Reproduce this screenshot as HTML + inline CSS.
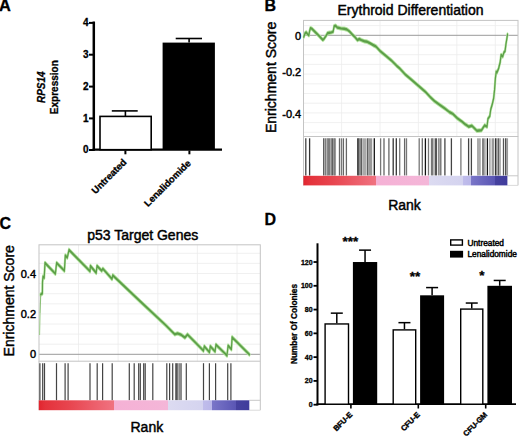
<!DOCTYPE html>
<html><head><meta charset="utf-8"><style>
html,body{margin:0;padding:0;background:#fff;width:520px;height:436px;overflow:hidden}
svg{display:block;font-family:'Liberation Sans',sans-serif}
text{font-family:'Liberation Sans',sans-serif;fill:#000}
</style></head><body>
<svg width="520" height="436" viewBox="0 0 520 436">
<text x="-1" y="10.7" font-size="16.4" font-weight="700" text-anchor="start" stroke="#000" stroke-width="0.3"  style="">A</text>
<line x1="93.8" y1="21.5" x2="93.8" y2="150.8" stroke="#000" stroke-width="2.5"/>
<line x1="89" y1="22.9" x2="93.8" y2="22.9" stroke="#000" stroke-width="2"/>
<text x="88.5" y="26.299999999999997" font-size="10" font-weight="700" text-anchor="end" stroke="#000" stroke-width="0.3"  style="">4</text>
<line x1="89" y1="54.7" x2="93.8" y2="54.7" stroke="#000" stroke-width="2"/>
<text x="88.5" y="58.1" font-size="10" font-weight="700" text-anchor="end" stroke="#000" stroke-width="0.3"  style="">3</text>
<line x1="89" y1="86.6" x2="93.8" y2="86.6" stroke="#000" stroke-width="2"/>
<text x="88.5" y="90.0" font-size="10" font-weight="700" text-anchor="end" stroke="#000" stroke-width="0.3"  style="">2</text>
<line x1="89" y1="118.4" x2="93.8" y2="118.4" stroke="#000" stroke-width="2"/>
<text x="88.5" y="121.80000000000001" font-size="10" font-weight="700" text-anchor="end" stroke="#000" stroke-width="0.3"  style="">1</text>
<line x1="89" y1="150" x2="93.8" y2="150" stroke="#000" stroke-width="2"/>
<text x="88.5" y="153.4" font-size="10" font-weight="700" text-anchor="end" stroke="#000" stroke-width="0.3"  style="">0</text>
<line x1="92.6" y1="149.7" x2="222" y2="149.7" stroke="#000" stroke-width="2.3"/>
<rect x="100" y="116.4" width="51.2" height="33.3" fill="#fff" stroke="#000" stroke-width="1.6"/>
<rect x="162.6" y="42.6" width="52.3" height="107.1" fill="#000"/>
<line x1="125.4" y1="110.9" x2="125.4" y2="116.4" stroke="#000" stroke-width="1.6"/>
<line x1="111.8" y1="110.9" x2="137.7" y2="110.9" stroke="#000" stroke-width="1.6"/>
<line x1="189.1" y1="38.5" x2="189.1" y2="42.6" stroke="#000" stroke-width="1.6"/>
<line x1="175.7" y1="38.5" x2="202" y2="38.5" stroke="#000" stroke-width="1.6"/>
<line x1="125.4" y1="150.5" x2="125.4" y2="154.3" stroke="#000" stroke-width="2"/>
<line x1="189.4" y1="150.5" x2="189.4" y2="154.3" stroke="#000" stroke-width="2"/>
<text x="0" y="0" font-size="9.6" font-weight="700" text-anchor="end" stroke="#000" stroke-width="0.3" transform="translate(127.2,162.8) rotate(-45)" style="">Untreated</text>
<text x="0" y="0" font-size="9.5" font-weight="700" text-anchor="end" stroke="#000" stroke-width="0.3" transform="translate(191.4,163.9) rotate(-45)" style="">Lenalidomide</text>
<text x="0" y="0" font-size="10" font-weight="700" text-anchor="middle" stroke="#000" stroke-width="0.3" transform="translate(45.2,87.2) rotate(-90)" style=""><tspan font-style="italic">RPS14</tspan></text>
<text x="0" y="0" font-size="10" font-weight="700" text-anchor="middle" stroke="#000" stroke-width="0.3" transform="translate(57.6,87.2) rotate(-90)" style="">Expression</text>
<line x1="341.6" y1="20.4" x2="341.6" y2="136.5" stroke="#ececec" stroke-width="0.8"/>
<line x1="380" y1="20.4" x2="380" y2="136.5" stroke="#ececec" stroke-width="0.8"/>
<line x1="418.4" y1="20.4" x2="418.4" y2="136.5" stroke="#ececec" stroke-width="0.8"/>
<line x1="456.8" y1="20.4" x2="456.8" y2="136.5" stroke="#ececec" stroke-width="0.8"/>
<line x1="495.3" y1="20.4" x2="495.3" y2="136.5" stroke="#ececec" stroke-width="0.8"/>
<line x1="303.5" y1="45.0" x2="518" y2="45.0" stroke="#ececec" stroke-width="0.8"/>
<line x1="303.5" y1="54.699999999999996" x2="518" y2="54.699999999999996" stroke="#ececec" stroke-width="0.8"/>
<line x1="303.5" y1="64.39999999999999" x2="518" y2="64.39999999999999" stroke="#ececec" stroke-width="0.8"/>
<line x1="303.5" y1="74.1" x2="518" y2="74.1" stroke="#ececec" stroke-width="0.8"/>
<line x1="303.5" y1="83.8" x2="518" y2="83.8" stroke="#ececec" stroke-width="0.8"/>
<line x1="303.5" y1="93.5" x2="518" y2="93.5" stroke="#ececec" stroke-width="0.8"/>
<line x1="303.5" y1="103.19999999999999" x2="518" y2="103.19999999999999" stroke="#ececec" stroke-width="0.8"/>
<line x1="303.5" y1="112.89999999999999" x2="518" y2="112.89999999999999" stroke="#ececec" stroke-width="0.8"/>
<line x1="303.5" y1="122.6" x2="518" y2="122.6" stroke="#ececec" stroke-width="0.8"/>
<line x1="303.5" y1="132.3" x2="518" y2="132.3" stroke="#ececec" stroke-width="0.8"/>
<line x1="303.5" y1="25.6" x2="518" y2="25.6" stroke="#ececec" stroke-width="0.8"/>
<line x1="303.5" y1="35.3" x2="518" y2="35.3" stroke="#9a9a9a" stroke-width="1"/>
<rect x="303.5" y="20.4" width="214.5" height="116.1" fill="none" stroke="#c4c4c4" stroke-width="1"/>
<line x1="303.5" y1="136.5" x2="303.5" y2="185.4" stroke="#c4c4c4" stroke-width="1"/>
<line x1="518" y1="136.5" x2="518" y2="185.4" stroke="#c4c4c4" stroke-width="1"/>
<line x1="507.4" y1="185.4" x2="518" y2="185.4" stroke="#dadada" stroke-width="1"/>
<line x1="507.4" y1="175.8" x2="518" y2="175.8" stroke="#c8c8c8" stroke-width="1"/>
<line x1="305.8" y1="138.3" x2="305.8" y2="175.5" stroke="#444" stroke-width="1.3"/>
<line x1="309.6" y1="138.3" x2="309.6" y2="175.5" stroke="#333" stroke-width="1.3"/>
<line x1="323.8" y1="138.3" x2="323.8" y2="175.5" stroke="#444" stroke-width="1.3"/>
<line x1="325.7" y1="138.3" x2="325.7" y2="175.5" stroke="#777" stroke-width="1.3"/>
<line x1="327.2" y1="138.3" x2="327.2" y2="175.5" stroke="#999" stroke-width="1.3"/>
<line x1="328.2" y1="138.3" x2="328.2" y2="175.5" stroke="#666" stroke-width="1.3"/>
<line x1="329.7" y1="138.3" x2="329.7" y2="175.5" stroke="#777" stroke-width="1.3"/>
<line x1="331" y1="138.3" x2="331" y2="175.5" stroke="#999" stroke-width="1.3"/>
<line x1="332.2" y1="138.3" x2="332.2" y2="175.5" stroke="#444" stroke-width="1.3"/>
<line x1="334.1" y1="138.3" x2="334.1" y2="175.5" stroke="#444" stroke-width="1.3"/>
<line x1="335.4" y1="138.3" x2="335.4" y2="175.5" stroke="#999" stroke-width="1.3"/>
<line x1="339.5" y1="138.3" x2="339.5" y2="175.5" stroke="#666" stroke-width="1.3"/>
<line x1="341.5" y1="138.3" x2="341.5" y2="175.5" stroke="#777" stroke-width="1.3"/>
<line x1="343.4" y1="138.3" x2="343.4" y2="175.5" stroke="#666" stroke-width="1.3"/>
<line x1="346.4" y1="138.3" x2="346.4" y2="175.5" stroke="#666" stroke-width="1.3"/>
<line x1="357.7" y1="138.3" x2="357.7" y2="175.5" stroke="#444" stroke-width="1.3"/>
<line x1="358.9" y1="138.3" x2="358.9" y2="175.5" stroke="#333" stroke-width="1.3"/>
<line x1="360.5" y1="138.3" x2="360.5" y2="175.5" stroke="#888" stroke-width="1.3"/>
<line x1="361.7" y1="138.3" x2="361.7" y2="175.5" stroke="#555" stroke-width="1.3"/>
<rect x="362.9" y="138.3" width="3.7000000000000455" height="37.19999999999999" fill="#aaa"/>
<line x1="367.8" y1="138.3" x2="367.8" y2="175.5" stroke="#444" stroke-width="1.3"/>
<rect x="368.5" y="138.3" width="3.6999999999999886" height="37.19999999999999" fill="#999"/>
<line x1="374.3" y1="138.3" x2="374.3" y2="175.5" stroke="#111" stroke-width="1.3"/>
<line x1="380.6" y1="138.3" x2="380.6" y2="175.5" stroke="#777" stroke-width="1.3"/>
<line x1="384" y1="138.3" x2="384" y2="175.5" stroke="#666" stroke-width="1.3"/>
<line x1="388.9" y1="138.3" x2="388.9" y2="175.5" stroke="#666" stroke-width="1.3"/>
<line x1="393.2" y1="138.3" x2="393.2" y2="175.5" stroke="#333" stroke-width="1.3"/>
<line x1="396.3" y1="138.3" x2="396.3" y2="175.5" stroke="#333" stroke-width="1.3"/>
<line x1="399.7" y1="138.3" x2="399.7" y2="175.5" stroke="#777" stroke-width="1.3"/>
<line x1="404.6" y1="138.3" x2="404.6" y2="175.5" stroke="#666" stroke-width="1.3"/>
<line x1="406.5" y1="138.3" x2="406.5" y2="175.5" stroke="#777" stroke-width="1.3"/>
<line x1="419.2" y1="138.3" x2="419.2" y2="175.5" stroke="#777" stroke-width="1.3"/>
<line x1="422.3" y1="138.3" x2="422.3" y2="175.5" stroke="#666" stroke-width="1.3"/>
<line x1="425.4" y1="138.3" x2="425.4" y2="175.5" stroke="#111" stroke-width="1.3"/>
<line x1="428.5" y1="138.3" x2="428.5" y2="175.5" stroke="#777" stroke-width="1.3"/>
<line x1="431.5" y1="138.3" x2="431.5" y2="175.5" stroke="#777" stroke-width="1.3"/>
<line x1="432.8" y1="138.3" x2="432.8" y2="175.5" stroke="#666" stroke-width="1.3"/>
<rect x="434.6" y="138.3" width="2.5" height="37.19999999999999" fill="#555"/>
<line x1="438.9" y1="138.3" x2="438.9" y2="175.5" stroke="#666" stroke-width="1.3"/>
<line x1="440.8" y1="138.3" x2="440.8" y2="175.5" stroke="#666" stroke-width="1.3"/>
<line x1="444.9" y1="138.3" x2="444.9" y2="175.5" stroke="#444" stroke-width="1.3"/>
<line x1="451.4" y1="138.3" x2="451.4" y2="175.5" stroke="#444" stroke-width="1.3"/>
<line x1="460.9" y1="138.3" x2="460.9" y2="175.5" stroke="#777" stroke-width="1.3"/>
<line x1="468.6" y1="138.3" x2="468.6" y2="175.5" stroke="#444" stroke-width="1.3"/>
<line x1="471.4" y1="138.3" x2="471.4" y2="175.5" stroke="#444" stroke-width="1.3"/>
<rect x="477" y="138.3" width="3.8000000000000114" height="37.19999999999999" fill="#aaa"/>
<rect x="482.4" y="138.3" width="1.2000000000000455" height="37.19999999999999" fill="#333"/>
<rect x="484.3" y="138.3" width="1.1999999999999886" height="37.19999999999999" fill="#888"/>
<line x1="487.4" y1="138.3" x2="487.4" y2="175.5" stroke="#111" stroke-width="1.3"/>
<rect x="489.3" y="138.3" width="1.1999999999999886" height="37.19999999999999" fill="#888"/>
<rect x="491.6" y="138.3" width="2.6999999999999886" height="37.19999999999999" fill="#999"/>
<line x1="495.8" y1="138.3" x2="495.8" y2="175.5" stroke="#111" stroke-width="1.3"/>
<line x1="498.2" y1="138.3" x2="498.2" y2="175.5" stroke="#444" stroke-width="1.3"/>
<line x1="500" y1="138.3" x2="500" y2="175.5" stroke="#888" stroke-width="1.3"/>
<line x1="503.5" y1="138.3" x2="503.5" y2="175.5" stroke="#555" stroke-width="1.3"/>
<line x1="505.8" y1="138.3" x2="505.8" y2="175.5" stroke="#333" stroke-width="1.3"/>
<line x1="507.4" y1="138.3" x2="507.4" y2="175.5" stroke="#999" stroke-width="1.3"/>
<defs><linearGradient id="g303" gradientUnits="userSpaceOnUse" x1="303.4" y1="0" x2="507.4" y2="0"><stop offset="0" stop-color="#e1242e"/><stop offset="0.03" stop-color="#e4323b"/><stop offset="0.15" stop-color="#e84650"/><stop offset="0.26" stop-color="#ec5e6a"/><stop offset="0.356" stop-color="#f07280"/><stop offset="0.356" stop-color="#f5b1d5"/><stop offset="0.614" stop-color="#f4b6d8"/><stop offset="0.614" stop-color="#dcdbf1"/><stop offset="0.78" stop-color="#d4d3ef"/><stop offset="0.78" stop-color="#c0bdeb"/><stop offset="0.822" stop-color="#bab7e9"/><stop offset="0.822" stop-color="#7a76c8"/><stop offset="0.937" stop-color="#5a56b4"/><stop offset="0.937" stop-color="#46429f"/><stop offset="1" stop-color="#403c9c"/></linearGradient></defs>
<rect x="303.4" y="175.8" width="204.0" height="9.6" fill="url(#g303)"/>
<g transform="scale(0.5,1)">
<polyline points="607.6,36.7 610.4,33 612.6,32.4 615.0,34.1 617.8,35.3 619.0,31.5 620.8,28.1 623.6,28.7 634.0,33.8 645.6,39.9 647.8,39 652.4,35.6 654.8,33.3 659.4,32.7 663.0,32.4 666.4,31.5 668.2,26.3 671.6,25.8 674.4,27.5 681.4,28.4 688.4,28.7 694.0,29.5 698.8,31.3 704.4,34.4 710.2,37.3 715.0,40.1 718.4,39 723.0,40.1 728.8,41.3 734.6,41.8 739.2,43 746.2,45 752.0,46.5 760.4,51.1 771.4,55.7 782.4,60.3 793.4,65.8 800.0,68.7 811.0,74.7 822.0,79.3 836.6,85.7 851.4,92.1 860.0,96.8 869.2,101.2 880.2,105.1 889.4,108.3 898.6,112 905.8,113.9 915.0,118.4 924.2,121.7 930.0,124.2 937.4,126.7 943.8,125.7 953.8,130.8 963.0,130.3 965.8,128 969.4,125.3 974.0,126.7 975.8,118.9 979.6,116.1 981.4,109.7 985.0,103.3 987.2,98.5 989.2,89.4 990.8,78.2 992.4,71.7 994.0,72.5 997.2,68.5 1000.4,62.1 1002.2,54.9 1005.4,56.5 1007.8,52.5 1010.2,50.9 1011.8,44.4 1013.4,39.6 1015.0,34.5" fill="none" stroke="#b4e4a0" stroke-width="4.4" stroke-linejoin="round" stroke-linecap="round"/>
<polyline points="607.6,36.7 610.4,33 612.6,32.4 615.0,34.1 617.8,35.3 619.0,31.5 620.8,28.1 623.6,28.7 634.0,33.8 645.6,39.9 647.8,39 652.4,35.6 654.8,33.3 659.4,32.7 663.0,32.4 666.4,31.5 668.2,26.3 671.6,25.8 674.4,27.5 681.4,28.4 688.4,28.7 694.0,29.5 698.8,31.3 704.4,34.4 710.2,37.3 715.0,40.1 718.4,39 723.0,40.1 728.8,41.3 734.6,41.8 739.2,43 746.2,45 752.0,46.5 760.4,51.1 771.4,55.7 782.4,60.3 793.4,65.8 800.0,68.7 811.0,74.7 822.0,79.3 836.6,85.7 851.4,92.1 860.0,96.8 869.2,101.2 880.2,105.1 889.4,108.3 898.6,112 905.8,113.9 915.0,118.4 924.2,121.7 930.0,124.2 937.4,126.7 943.8,125.7 953.8,130.8 963.0,130.3 965.8,128 969.4,125.3 974.0,126.7 975.8,118.9 979.6,116.1 981.4,109.7 985.0,103.3 987.2,98.5 989.2,89.4 990.8,78.2 992.4,71.7 994.0,72.5 997.2,68.5 1000.4,62.1 1002.2,54.9 1005.4,56.5 1007.8,52.5 1010.2,50.9 1011.8,44.4 1013.4,39.6 1015.0,34.5" fill="none" stroke="#5c9f48" stroke-width="2.4" stroke-linejoin="round" stroke-linecap="round"/>
</g>
<text x="337.5" y="15.4" font-size="14" font-weight="400" text-anchor="start" stroke="#000" stroke-width="0.45"  style="">Erythroid Differentiation</text>
<text x="301.2" y="40" font-size="11" font-weight="400" text-anchor="end" stroke="#000" stroke-width="0.45"  style="">0</text>
<text x="301.2" y="76.2" font-size="11" font-weight="400" text-anchor="end" stroke="#000" stroke-width="0.45"  style="">-0.2</text>
<text x="301.2" y="118" font-size="11" font-weight="400" text-anchor="end" stroke="#000" stroke-width="0.45"  style="">-0.4</text>
<text x="0" y="0" font-size="14" font-weight="400" text-anchor="middle" stroke="#000" stroke-width="0.45" transform="translate(276.2,77.4) rotate(-90)" style="">Enrichment Score</text>
<text x="388.2" y="209.9" font-size="14" font-weight="400" text-anchor="start" stroke="#000" stroke-width="0.45"  style="">Rank</text>
<text x="264.4" y="10.5" font-size="16" font-weight="700" text-anchor="start" stroke="#000" stroke-width="0.3"  style="">B</text>
<line x1="78.5" y1="244.8" x2="78.5" y2="361.2" stroke="#ececec" stroke-width="0.8"/>
<line x1="118.1" y1="244.8" x2="118.1" y2="361.2" stroke="#ececec" stroke-width="0.8"/>
<line x1="157.8" y1="244.8" x2="157.8" y2="361.2" stroke="#ececec" stroke-width="0.8"/>
<line x1="197.4" y1="244.8" x2="197.4" y2="361.2" stroke="#ececec" stroke-width="0.8"/>
<line x1="237" y1="244.8" x2="237" y2="361.2" stroke="#ececec" stroke-width="0.8"/>
<line x1="39" y1="344.2" x2="260.3" y2="344.2" stroke="#ececec" stroke-width="0.8"/>
<line x1="39" y1="334.1" x2="260.3" y2="334.1" stroke="#ececec" stroke-width="0.8"/>
<line x1="39" y1="324.0" x2="260.3" y2="324.0" stroke="#ececec" stroke-width="0.8"/>
<line x1="39" y1="313.90000000000003" x2="260.3" y2="313.90000000000003" stroke="#ececec" stroke-width="0.8"/>
<line x1="39" y1="303.8" x2="260.3" y2="303.8" stroke="#ececec" stroke-width="0.8"/>
<line x1="39" y1="293.70000000000005" x2="260.3" y2="293.70000000000005" stroke="#ececec" stroke-width="0.8"/>
<line x1="39" y1="283.6" x2="260.3" y2="283.6" stroke="#ececec" stroke-width="0.8"/>
<line x1="39" y1="273.5" x2="260.3" y2="273.5" stroke="#ececec" stroke-width="0.8"/>
<line x1="39" y1="263.40000000000003" x2="260.3" y2="263.40000000000003" stroke="#ececec" stroke-width="0.8"/>
<line x1="39" y1="253.3" x2="260.3" y2="253.3" stroke="#ececec" stroke-width="0.8"/>
<line x1="39" y1="354.3" x2="260.3" y2="354.3" stroke="#9a9a9a" stroke-width="1"/>
<rect x="39" y="244.8" width="221.3" height="116.39999999999998" fill="none" stroke="#c4c4c4" stroke-width="1"/>
<line x1="39" y1="361.2" x2="39" y2="410.2" stroke="#c4c4c4" stroke-width="1"/>
<line x1="260.3" y1="361.2" x2="260.3" y2="410.2" stroke="#c4c4c4" stroke-width="1"/>
<line x1="249.3" y1="410.2" x2="260.3" y2="410.2" stroke="#dadada" stroke-width="1"/>
<line x1="249.3" y1="400.3" x2="260.3" y2="400.3" stroke="#c8c8c8" stroke-width="1"/>
<line x1="39.9" y1="363.2" x2="39.9" y2="400.3" stroke="#444" stroke-width="1.2"/>
<line x1="42.7" y1="363.2" x2="42.7" y2="400.3" stroke="#444" stroke-width="1.2"/>
<line x1="44.5" y1="363.2" x2="44.5" y2="400.3" stroke="#444" stroke-width="1.2"/>
<line x1="56.5" y1="363.2" x2="56.5" y2="400.3" stroke="#444" stroke-width="1.2"/>
<line x1="65.1" y1="363.2" x2="65.1" y2="400.3" stroke="#444" stroke-width="1.2"/>
<line x1="68.1" y1="363.2" x2="68.1" y2="400.3" stroke="#444" stroke-width="1.2"/>
<line x1="90" y1="363.2" x2="90" y2="400.3" stroke="#444" stroke-width="1.2"/>
<line x1="97.2" y1="363.2" x2="97.2" y2="400.3" stroke="#444" stroke-width="1.2"/>
<line x1="102.6" y1="363.2" x2="102.6" y2="400.3" stroke="#444" stroke-width="1.2"/>
<line x1="112.2" y1="363.2" x2="112.2" y2="400.3" stroke="#444" stroke-width="1.2"/>
<line x1="129.3" y1="363.2" x2="129.3" y2="400.3" stroke="#444" stroke-width="1.2"/>
<line x1="134.2" y1="363.2" x2="134.2" y2="400.3" stroke="#444" stroke-width="1.2"/>
<line x1="138.7" y1="363.2" x2="138.7" y2="400.3" stroke="#444" stroke-width="1.2"/>
<line x1="140.3" y1="363.2" x2="140.3" y2="400.3" stroke="#444" stroke-width="1.2"/>
<line x1="143.7" y1="363.2" x2="143.7" y2="400.3" stroke="#444" stroke-width="1.2"/>
<line x1="145.2" y1="363.2" x2="145.2" y2="400.3" stroke="#444" stroke-width="1.2"/>
<line x1="152.8" y1="363.2" x2="152.8" y2="400.3" stroke="#444" stroke-width="1.2"/>
<line x1="166.8" y1="363.2" x2="166.8" y2="400.3" stroke="#444" stroke-width="1.2"/>
<line x1="169.6" y1="363.2" x2="169.6" y2="400.3" stroke="#444" stroke-width="1.2"/>
<line x1="172.7" y1="363.2" x2="172.7" y2="400.3" stroke="#444" stroke-width="1.2"/>
<rect x="175.2" y="363.2" width="2.6000000000000227" height="37.10000000000002" fill="#555"/>
<rect x="178.3" y="363.2" width="3.6999999999999886" height="37.10000000000002" fill="#8a8a8a"/>
<line x1="186.3" y1="363.2" x2="186.3" y2="400.3" stroke="#444" stroke-width="1.2"/>
<line x1="203.5" y1="363.2" x2="203.5" y2="400.3" stroke="#444" stroke-width="1.2"/>
<line x1="209.4" y1="363.2" x2="209.4" y2="400.3" stroke="#444" stroke-width="1.2"/>
<line x1="215.6" y1="363.2" x2="215.6" y2="400.3" stroke="#444" stroke-width="1.2"/>
<line x1="227.7" y1="363.2" x2="227.7" y2="400.3" stroke="#444" stroke-width="1.2"/>
<line x1="230.9" y1="363.2" x2="230.9" y2="400.3" stroke="#444" stroke-width="1.2"/>
<defs><linearGradient id="g38" gradientUnits="userSpaceOnUse" x1="38.8" y1="0" x2="249.3" y2="0"><stop offset="0" stop-color="#e1242e"/><stop offset="0.03" stop-color="#e4323b"/><stop offset="0.15" stop-color="#e84650"/><stop offset="0.26" stop-color="#ec5e6a"/><stop offset="0.356" stop-color="#f07280"/><stop offset="0.356" stop-color="#f5b1d5"/><stop offset="0.614" stop-color="#f4b6d8"/><stop offset="0.614" stop-color="#dcdbf1"/><stop offset="0.78" stop-color="#d4d3ef"/><stop offset="0.78" stop-color="#c0bdeb"/><stop offset="0.822" stop-color="#bab7e9"/><stop offset="0.822" stop-color="#7a76c8"/><stop offset="0.937" stop-color="#5a56b4"/><stop offset="0.937" stop-color="#46429f"/><stop offset="1" stop-color="#403c9c"/></linearGradient></defs>
<rect x="38.8" y="400.3" width="210.5" height="9.9" fill="url(#g38)"/>
<g transform="scale(0.5,1)">
<polyline points="81.2,294.7 83.0,293.8 84.8,293.5 85.0,282 86.0,276.6 88.4,277.8 90.0,262.9 110.8,273.7 113.2,262.9 128.8,270.8 130.6,255.5 134.6,257.6 138.0,249.9 180.0,271.3 180.8,265.9 192.4,272.9 194.0,265.9 203.4,270.7 205.8,268.7 224.0,279 225.6,275.3 280.0,301.2 331.0,325 349.6,334.4 355.0,333.4 362.4,334.8 369.8,337.6 375.0,334.5 407.0,350.7 408.6,346.3 419.0,352.3 420.6,346.3 430.2,351.5 431.8,344.7 450.0,353.5 454.0,355.6 456.2,345.6 462.8,349.3 464.2,337.2 498.8,354.5" fill="none" stroke="#b4e4a0" stroke-width="4.4" stroke-linejoin="round" stroke-linecap="round"/>
<polyline points="81.2,294.7 83.0,293.8 84.8,293.5 85.0,282 86.0,276.6 88.4,277.8 90.0,262.9 110.8,273.7 113.2,262.9 128.8,270.8 130.6,255.5 134.6,257.6 138.0,249.9 180.0,271.3 180.8,265.9 192.4,272.9 194.0,265.9 203.4,270.7 205.8,268.7 224.0,279 225.6,275.3 280.0,301.2 331.0,325 349.6,334.4 355.0,333.4 362.4,334.8 369.8,337.6 375.0,334.5 407.0,350.7 408.6,346.3 419.0,352.3 420.6,346.3 430.2,351.5 431.8,344.7 450.0,353.5 454.0,355.6 456.2,345.6 462.8,349.3 464.2,337.2 498.8,354.5" fill="none" stroke="#5c9f48" stroke-width="2.4" stroke-linejoin="round" stroke-linecap="round"/>
</g>
<text x="87.2" y="240" font-size="14" font-weight="400" text-anchor="start" stroke="#000" stroke-width="0.45"  style="">p53 Target Genes</text>
<text x="36" y="277.9" font-size="11" font-weight="400" text-anchor="end" stroke="#000" stroke-width="0.45"  style="">0.4</text>
<text x="36" y="318.4" font-size="11" font-weight="400" text-anchor="end" stroke="#000" stroke-width="0.45"  style="">0.2</text>
<text x="36" y="357.8" font-size="11" font-weight="400" text-anchor="end" stroke="#000" stroke-width="0.45"  style="">0</text>
<text x="0" y="0" font-size="14" font-weight="400" text-anchor="middle" stroke="#000" stroke-width="0.45" transform="translate(14.3,300.8) rotate(-90)" style="">Enrichment Score</text>
<text x="130.5" y="431.9" font-size="14" font-weight="400" text-anchor="start" stroke="#000" stroke-width="0.45"  style="">Rank</text>
<text x="-0.4" y="229.4" font-size="16" font-weight="700" text-anchor="start" stroke="#000" stroke-width="0.3"  style="">C</text>
<line x1="39.6" y1="335" x2="40.1" y2="313" stroke="#9ccc88" stroke-width="1"/>
<line x1="40.1" y1="313" x2="40.7" y2="294.7" stroke="#8cc078" stroke-width="1.1"/>
<text x="264.5" y="224.9" font-size="16" font-weight="700" text-anchor="start" stroke="#000" stroke-width="0.3"  style="">D</text>
<line x1="317.5" y1="243.3" x2="317.5" y2="405.5" stroke="#000" stroke-width="2"/>
<line x1="313.5" y1="404.7" x2="317.5" y2="404.7" stroke="#000" stroke-width="1.8"/>
<text x="312.6" y="407.2" font-size="7" font-weight="700" text-anchor="end" stroke="#000" stroke-width="0.3"  style="">0</text>
<line x1="313.5" y1="380.91999999999996" x2="317.5" y2="380.91999999999996" stroke="#000" stroke-width="1.8"/>
<text x="312.6" y="383.41999999999996" font-size="7" font-weight="700" text-anchor="end" stroke="#000" stroke-width="0.3"  style="">20</text>
<line x1="313.5" y1="357.14" x2="317.5" y2="357.14" stroke="#000" stroke-width="1.8"/>
<text x="312.6" y="359.64" font-size="7" font-weight="700" text-anchor="end" stroke="#000" stroke-width="0.3"  style="">40</text>
<line x1="313.5" y1="333.36" x2="317.5" y2="333.36" stroke="#000" stroke-width="1.8"/>
<text x="312.6" y="335.86" font-size="7" font-weight="700" text-anchor="end" stroke="#000" stroke-width="0.3"  style="">60</text>
<line x1="313.5" y1="309.58" x2="317.5" y2="309.58" stroke="#000" stroke-width="1.8"/>
<text x="312.6" y="312.08" font-size="7" font-weight="700" text-anchor="end" stroke="#000" stroke-width="0.3"  style="">80</text>
<line x1="313.5" y1="285.79999999999995" x2="317.5" y2="285.79999999999995" stroke="#000" stroke-width="1.8"/>
<text x="312.6" y="288.29999999999995" font-size="7" font-weight="700" text-anchor="end" stroke="#000" stroke-width="0.3"  style="">100</text>
<line x1="313.5" y1="262.02" x2="317.5" y2="262.02" stroke="#000" stroke-width="1.8"/>
<text x="312.6" y="264.52" font-size="7" font-weight="700" text-anchor="end" stroke="#000" stroke-width="0.3"  style="">120</text>
<line x1="316.5" y1="404.2" x2="516" y2="404.2" stroke="#000" stroke-width="1.8"/>
<line x1="336.79999999999995" y1="313.147" x2="336.79999999999995" y2="323.2535" stroke="#000" stroke-width="1.5"/>
<line x1="330.79999999999995" y1="313.147" x2="342.79999999999995" y2="313.147" stroke="#000" stroke-width="1.5"/>
<rect x="325.09999999999997" y="323.95349999999996" width="23.400000000000013" height="80.24650000000001" fill="#fff" stroke="#000" stroke-width="1.4"/>
<line x1="365.04999999999995" y1="250.13" x2="365.04999999999995" y2="262.02" stroke="#000" stroke-width="1.5"/>
<line x1="359.04999999999995" y1="250.13" x2="371.04999999999995" y2="250.13" stroke="#000" stroke-width="1.5"/>
<rect x="352.9" y="262.02" width="24.30000000000001" height="142.18" fill="#000"/>
<line x1="404.45" y1="322.659" x2="404.45" y2="329.19849999999997" stroke="#000" stroke-width="1.5"/>
<line x1="398.45" y1="322.659" x2="410.45" y2="322.659" stroke="#000" stroke-width="1.5"/>
<rect x="393.2" y="329.89849999999996" width="22.49999999999998" height="74.30150000000002" fill="#fff" stroke="#000" stroke-width="1.4"/>
<line x1="432.1" y1="287.58349999999996" x2="432.1" y2="295.312" stroke="#000" stroke-width="1.5"/>
<line x1="426.1" y1="287.58349999999996" x2="438.1" y2="287.58349999999996" stroke="#000" stroke-width="1.5"/>
<rect x="420.1" y="295.312" width="24.0" height="108.88799999999998" fill="#000"/>
<line x1="471.75" y1="303.04049999999995" x2="471.75" y2="308.39099999999996" stroke="#000" stroke-width="1.5"/>
<line x1="465.75" y1="303.04049999999995" x2="477.75" y2="303.04049999999995" stroke="#000" stroke-width="1.5"/>
<rect x="460.7" y="309.09099999999995" width="22.1" height="95.10900000000002" fill="#fff" stroke="#000" stroke-width="1.4"/>
<line x1="499.7" y1="280.4495" x2="499.7" y2="285.79999999999995" stroke="#000" stroke-width="1.5"/>
<line x1="493.7" y1="280.4495" x2="505.7" y2="280.4495" stroke="#000" stroke-width="1.5"/>
<rect x="487.4" y="285.79999999999995" width="24.600000000000023" height="118.40000000000003" fill="#000"/>
<line x1="350.9" y1="404.5" x2="350.9" y2="408.5" stroke="#000" stroke-width="1.6"/>
<line x1="418.3" y1="404.5" x2="418.3" y2="408.5" stroke="#000" stroke-width="1.6"/>
<line x1="485.7" y1="404.5" x2="485.7" y2="408.5" stroke="#000" stroke-width="1.6"/>
<text x="0" y="0" font-size="7.6" font-weight="700" text-anchor="end" stroke="#000" stroke-width="0.4" transform="translate(352.8,415.2) rotate(-45)" style="">BFU-E</text>
<text x="0" y="0" font-size="7.6" font-weight="700" text-anchor="end" stroke="#000" stroke-width="0.4" transform="translate(420.3,415.2) rotate(-45)" style="">CFU-E</text>
<text x="0" y="0" font-size="7.6" font-weight="700" text-anchor="end" stroke="#000" stroke-width="0.4" transform="translate(487.8,415.2) rotate(-45)" style="">CFU-GM</text>
<text x="0" y="0" font-size="8.3" font-weight="700" text-anchor="middle" stroke="#000" stroke-width="0.3" transform="translate(296.6,324) rotate(-90)" style="">Number Of Colonies</text>
<text x="350.3" y="245.7" font-size="13.5" font-weight="700" text-anchor="middle" stroke="#000" stroke-width="0.3"  style="">***</text>
<text x="414.9" y="280.9" font-size="13.5" font-weight="700" text-anchor="middle" stroke="#000" stroke-width="0.3"  style="">**</text>
<text x="481.8" y="279.5" font-size="13.5" font-weight="700" text-anchor="middle" stroke="#000" stroke-width="0.3"  style="">*</text>
<rect x="450.7" y="239.9" width="11.7" height="5.2" fill="#fff" stroke="#000" stroke-width="1.4"/>
<rect x="450" y="250.8" width="13.1" height="6.8" fill="#000"/>
<text x="467.5" y="245.8" font-size="8.3" font-weight="400" text-anchor="start" stroke="#000" stroke-width="0.45"  style="">Untreated</text>
<text x="467.5" y="257.4" font-size="8.3" font-weight="400" text-anchor="start" stroke="#000" stroke-width="0.45"  style="">Lenalidomide</text>
</svg>
</body></html>
